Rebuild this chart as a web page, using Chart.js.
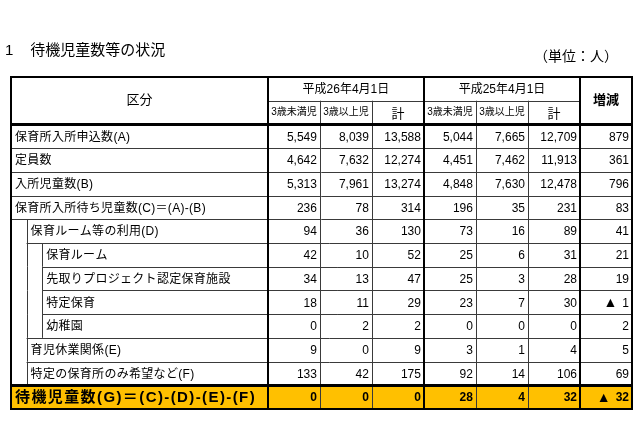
<!DOCTYPE html>
<html lang="ja">
<head>
<meta charset="UTF-8">
<title>待機児童数等の状況</title>
<style>
    body {
        margin: 0;
        background: #fff;
        font-family: 'Liberation Sans', 'Noto Sans CJK JP', sans-serif;
        color: #000;
    }
    .wrap {
        position: relative;
        width: 640px;
        height: 426px;
    }
    canvas { position: absolute; left: 0; top: 0; }
    .title {
        position: absolute;
        left: 5px;
        top: 38px;
        font-size: 15px;
        white-space: nowrap;
    }
    .title span { margin-left: 17px; }
    .unit {
        position: absolute;
        left: 534px;
        top: 45px;
        font-size: 14px;
        white-space: nowrap;
    }
</style>
<script src="https://cdn.jsdelivr.net/npm/chart.js"></script>
</head>
<body>
<div class="wrap">
    <canvas id="tbl" width="640" height="426"></canvas>
    <div class="title">1<span>待機児童数等の状況</span></div>
    <div class="unit">（単位：人）</div>
</div>
<script>
    // table content
    const rowLabels = [
        '保育所入所申込数(A)',
        '定員数',
        '入所児童数(B)',
        '保育所入所待ち児童数(C)＝(A)-(B)',
        '保育ルーム等の利用(D)',
        '保育ルーム',
        '先取りプロジェクト認定保育施設',
        '特定保育',
        '幼稚園',
        '育児休業関係(E)',
        '特定の保育所のみ希望など(F)',
        '待機児童数(G)＝(C)-(D)-(E)-(F)'
    ];
    const rowLevel = [0, 0, 0, 0, 1, 2, 2, 2, 2, 1, 1, 0];
    const periodLabels = ['平成26年4月1日', '平成25年4月1日'];
    const subHeaders = ['3歳未満児', '3歳以上児', '計'];

    const h26Under3 = [5549, 4642, 5313, 236, 94, 42, 34, 18, 0, 9, 133, 0];
    const h26Over3  = [8039, 7632, 7961, 78, 36, 10, 13, 11, 2, 0, 42, 0];
    const h26Total  = [13588, 12274, 13274, 314, 130, 52, 47, 29, 2, 9, 175, 0];
    const h25Under3 = [5044, 4451, 4848, 196, 73, 25, 25, 23, 0, 3, 92, 28];
    const h25Over3  = [7665, 7462, 7630, 35, 16, 6, 3, 7, 0, 1, 14, 4];
    const h25Total  = [12709, 11913, 12478, 231, 89, 31, 28, 30, 0, 4, 106, 32];
    const change    = [879, 361, 796, 83, 41, 21, 19, -1, 2, 5, 69, -32];

    const valueColumns = [h26Under3, h26Over3, h26Total, h25Under3, h25Over3, h25Total, change];

    // layout (column widths in x-scale units)
    const colWidths = [4.94, 1, 1, 1, 1, 1, 1, 1];
    const colEdges = [0];
    colWidths.forEach(w => colEdges.push(colEdges[colEdges.length - 1] + w));
    const totalUnits = colEdges[colEdges.length - 1];
    const indentStep = 0.3;
    const lastRow = rowLabels.length - 1;

    const FONT = "'Liberation Sans', 'Noto Sans CJK JP', sans-serif";

    const datasets = valueColumns.map((col, c) => ({
        label: 'col' + c,
        data: col.map((v, i) => ({ x: colEdges[c + 2], y: i + 0.5, v: v })),
        pointRadius: 0,
        pointHoverRadius: 0
    }));

    const tablePlugin = {
        id: 'tableGrid',
        beforeDatasetsDraw(chart) {
            const { ctx, scales: { x, y } } = chart;
            const X = u => x.getPixelForValue(u);
            const Y = u => y.getPixelForValue(u);
            const snap = (p, w) => (w % 2 === 1 ? Math.round(p) + 0.5 : Math.round(p));

            function hline(u1, u2, v, w, color) {
                ctx.beginPath();
                ctx.lineWidth = w;
                ctx.strokeStyle = color;
                const py = snap(Y(v), w);
                ctx.moveTo(X(u1), py);
                ctx.lineTo(X(u2), py);
                ctx.stroke();
            }
            function vline(u, v1, v2, w, color) {
                ctx.beginPath();
                ctx.lineWidth = w;
                ctx.strokeStyle = color;
                const px = snap(X(u), w);
                ctx.moveTo(px, Y(v1));
                ctx.lineTo(px, Y(v2));
                ctx.stroke();
            }

            ctx.save();
            // yellow total row
            ctx.fillStyle = '#ffc000';
            ctx.fillRect(X(0), Y(lastRow), X(totalUnits) - X(0), Y(lastRow + 1) - Y(lastRow));

            const thin = '#3a3a3a';
            // row separators
            for (let i = 1; i < rowLabels.length; i++) {
                const lvl = Math.min(rowLevel[i - 1], rowLevel[i]);
                if (i === lastRow) continue;
                hline(lvl * indentStep, totalUnits, i, 1, thin);
            }
            // indent verticals
            rowLabels.forEach((_, i) => {
                for (let l = 1; l <= rowLevel[i]; l++) {
                    vline(l * indentStep, i, i + 1, 1, thin);
                }
            });
            // header split line
            hline(colEdges[1], colEdges[7], -1, 1, thin);
            // thin column lines
            [2, 3, 5, 6].forEach(e => vline(colEdges[e], -1, rowLabels.length, 1, thin));

            // thick lines
            const dark = '#000';
            [1, 4, 7].forEach(e => vline(colEdges[e], -2, rowLabels.length, 2, dark));
            hline(0, totalUnits, 0, 3, dark);
            hline(0, totalUnits, lastRow, 3, dark);
            ctx.lineWidth = 2;
            ctx.strokeStyle = dark;
            ctx.strokeRect(Math.round(X(0)), Math.round(Y(-2)),
                Math.round(X(totalUnits)) - Math.round(X(0)), Math.round(Y(rowLabels.length)) - Math.round(Y(-2)));
            ctx.restore();
        },
        afterDatasetsDraw(chart) {
            const { ctx, scales: { x, y } } = chart;
            const X = u => x.getPixelForValue(u);
            const Y = u => y.getPixelForValue(u);
            ctx.save();
            ctx.fillStyle = '#000';
            ctx.textBaseline = 'middle';

            // header
            ctx.textAlign = 'center';
            ctx.font = '13px ' + FONT;
            ctx.fillText('区分', X(colEdges[1] / 2), Y(-1));
            ctx.font = 'bold 13px ' + FONT;
            ctx.fillText('増減', X((colEdges[7] + colEdges[8]) / 2), Y(-1));
            ctx.font = '12px ' + FONT;
            periodLabels.forEach((p, k) => {
                const a = colEdges[1 + k * 3], b = colEdges[4 + k * 3];
                ctx.fillText(p, X((a + b) / 2), Y(-1.5) + 1);
            });
            periodLabels.forEach((p, k) => {
                subHeaders.forEach((s, j) => {
                    const c = 1 + k * 3 + j;
                    ctx.font = (j === 2 ? '13px ' : '10px ') + FONT;
                    ctx.fillText(s, X((colEdges[c] + colEdges[c + 1]) / 2), Y(-0.5) + (j === 2 ? 2 : 0));
                });
            });

            // row labels
            ctx.textAlign = 'left';
            rowLabels.forEach((lab, i) => {
                const px = X(rowLevel[i] * indentStep) + 4;
                if (i === lastRow) {
                    ctx.font = 'bold 15px ' + FONT;
                    ctx.letterSpacing = '1.4px';
                } else {
                    ctx.font = '12px ' + FONT;
                    ctx.letterSpacing = '0.3px';
                }
                ctx.fillText(lab, px, Y(i + 0.5) + 1);
            });
            ctx.letterSpacing = '0px';

            // values (negative change shown with a triangle)
            ctx.textAlign = 'right';
            chart.data.datasets.forEach((ds, d) => {
                const meta = chart.getDatasetMeta(d);
                meta.data.forEach((el, i) => {
                    const v = ds.data[i].v;
                    const font = (i === lastRow ? 'bold 12px ' : '12px ') + FONT;
                    ctx.font = font;
                    const txt = Math.abs(v).toLocaleString('en-US');
                    const rx = el.x - 3;
                    ctx.fillText(txt, rx, el.y + 1);
                    if (v < 0) {
                        const w = ctx.measureText(txt).width;
                        ctx.font = '14px ' + FONT;
                        ctx.fillText('▲', rx - w - 5, el.y + 1);
                    }
                });
            });
            ctx.restore();
        }
    };

    new Chart(document.getElementById('tbl'), {
        type: 'scatter',
        data: { datasets: datasets },
        options: {
            responsive: false,
            animation: false,
            events: [],
            layout: { padding: { left: 11, right: 8, top: 77, bottom: 17 } },
            scales: {
                x: { type: 'linear', display: false, min: 0, max: totalUnits },
                y: { type: 'linear', display: false, min: -2, max: rowLabels.length, reverse: true }
            },
            plugins: {
                legend: { display: false },
                tooltip: { enabled: false }
            }
        },
        plugins: [tablePlugin]
    });
</script>
</body>
</html>
